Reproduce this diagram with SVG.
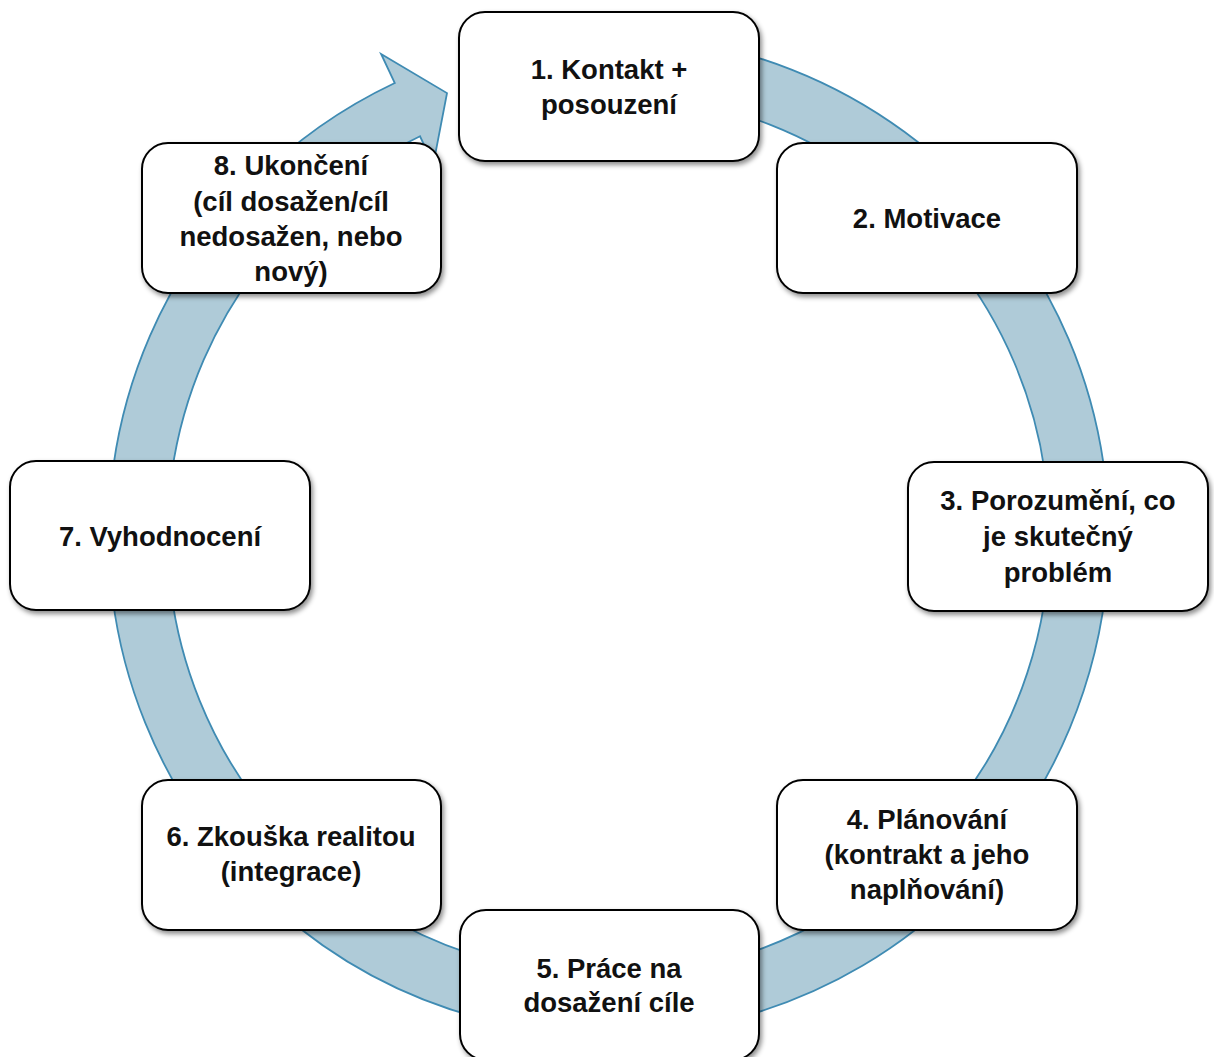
<svg xmlns="http://www.w3.org/2000/svg" width="1214" height="1057" viewBox="0 0 1214 1057">
<defs>
<filter id="sh" x="-10%" y="-10%" width="125%" height="130%">
<feDropShadow dx="2" dy="3" stdDeviation="2.5" flood-color="#000" flood-opacity="0.45"/>
</filter>
</defs>
<style>
.box{fill:#fff;stroke:#000;stroke-width:2;filter:url(#sh)}
.t{font-family:"Liberation Sans",Arial,sans-serif;font-weight:bold;font-size:27.5px;fill:#111;text-anchor:middle}
.band{fill:#AFCBD8;stroke:#3F8BB3;stroke-width:1.8;stroke-linejoin:miter}
</style>
<rect width="1214" height="1057" fill="#fff"/>
<g id="connectors">
<path class="band" d="M 564.9 36.9 A 500 500 0 1 1 394.8 83.0 L 381.1 54.0 L 447.0 93.1 L 433.3 164.3 L 420.0 136.3 A 441 441 0 1 0 570.1 95.7 Z"/>
</g>
<g id="n1"><rect class="box" x="459" y="12" width="300" height="149" rx="26"/>
<text class="t" x="609" y="79">1. Kontakt +</text><text class="t" x="609" y="114">posouzení</text></g>
<g id="n2"><rect class="box" x="777" y="143" width="300" height="150" rx="26"/>
<text class="t" x="927" y="228">2. Motivace</text></g>
<g id="n3"><rect class="box" x="908" y="462" width="300" height="149" rx="26"/>
<text class="t" x="1058" y="510">3. Porozumění, co</text><text class="t" x="1058" y="546">je skutečný</text><text class="t" x="1058" y="582">problém</text></g>
<g id="n4"><rect class="box" x="777" y="780" width="300" height="150" rx="26"/>
<text class="t" x="927" y="829">4. Plánování</text><text class="t" x="927" y="864">(kontrakt a jeho</text><text class="t" x="927" y="899">naplňování)</text></g>
<g id="n5"><rect class="box" x="460" y="910" width="299" height="150" rx="26"/>
<text class="t" x="609" y="978">5. Práce na</text><text class="t" x="609" y="1012">dosažení cíle</text></g>
<g id="n6"><rect class="box" x="142" y="780" width="299" height="150" rx="26"/>
<text class="t" x="291" y="846">6. Zkouška realitou</text><text class="t" x="291" y="881">(integrace)</text></g>
<g id="n7"><rect class="box" x="10" y="461" width="300" height="149" rx="26"/>
<text class="t" x="160" y="546">7. Vyhodnocení</text></g>
<g id="n8"><rect class="box" x="142" y="143" width="299" height="150" rx="26"/>
<text class="t" x="291" y="175">8. Ukončení</text><text class="t" x="291" y="211">(cíl dosažen/cíl</text><text class="t" x="291" y="246">nedosažen, nebo</text><text class="t" x="291" y="281">nový)</text></g>
</svg>
